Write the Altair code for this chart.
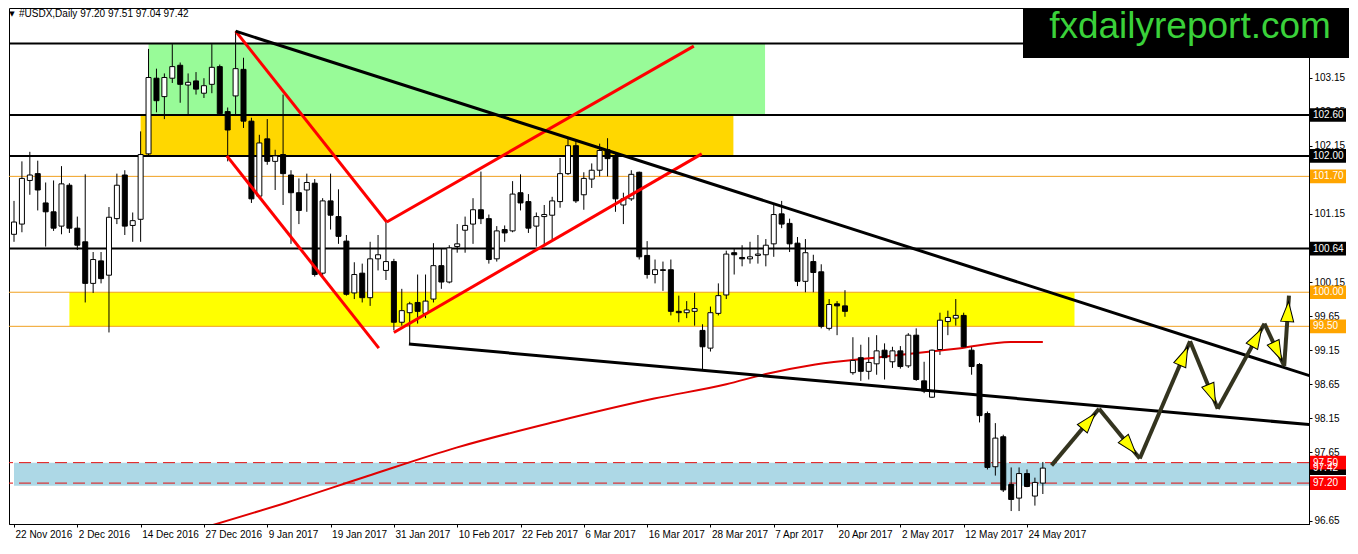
import math

import altair as alt
import pandas as pd

W, H = 1300, 516
X_DOMAIN = [0, 163]
Y_DOMAIN = [96.60, 104.17]
FONT = "Liberation Sans"

# x-axis tick labels, one every 8 bars
date_labels = [
    "22 Nov 2016", "2 Dec 2016", "14 Dec 2016", "27 Dec 2016", "9 Jan 2017",
    "19 Jan 2017", "31 Jan 2017", "10 Feb 2017", "22 Feb 2017", "6 Mar 2017",
    "16 Mar 2017", "28 Mar 2017", "7 Apr 2017", "20 Apr 2017", "2 May 2017",
    "12 May 2017", "24 May 2017",
]
y_ticks = [96.65, 97.15, 97.65, 98.15, 98.65, 99.15, 99.65, 100.15,
           100.65, 101.15, 101.65, 102.15, 102.65, 103.15]

# daily OHLC, one value per bar
opens = [
    100.85, 101.00, 101.64, 101.74, 101.31, 101.18, 100.97, 101.57, 100.94, 100.74,
    100.13, 100.46, 100.25, 101.08, 101.72, 100.98, 101.07, 102.03, 103.14, 102.87,
    103.14, 103.33, 103.04, 103.10, 102.92, 103.05, 103.31, 102.65, 102.88, 103.27,
    102.51, 101.41, 102.25, 101.92, 102.02, 101.72, 101.46, 101.50, 101.60, 100.28,
    101.34, 101.11, 100.75, 99.99, 100.28, 99.92, 100.49, 100.32, 100.45, 99.56,
    99.70, 99.85, 99.69, 99.90, 100.39, 100.15, 100.67, 100.91, 101.00, 101.21,
    101.08, 100.49, 100.92, 100.90, 101.46, 101.33, 100.97, 101.11, 101.13, 101.33,
    101.74, 102.15, 101.43, 101.66, 101.79, 102.09, 102.00, 101.28, 101.37, 101.76,
    100.54, 100.26, 100.33, 100.33, 99.72, 99.70, 99.72, 99.44, 99.18, 99.69,
    99.96, 100.58, 100.51, 100.49, 100.54, 100.55, 100.71, 101.15, 101.01, 100.72,
    100.16, 100.45, 100.30, 99.47, 99.83, 99.80, 98.82, 99.04, 98.84, 98.95,
    99.15, 98.98, 99.14, 98.92, 99.37, 98.70, 98.46, 99.16, 99.57, 99.62,
    99.66, 99.15, 98.94, 98.22, 97.44, 97.88, 97.18, 96.98, 97.34, 97.01,
    97.20,
]
highs = [
    101.34, 101.92, 102.06, 101.93, 101.61, 101.64, 101.85, 101.60, 101.11, 101.73,
    100.59, 100.59, 101.25, 101.74, 101.79, 101.17, 102.36, 103.57, 103.28, 103.21,
    103.64, 103.37, 103.21, 103.23, 103.14, 103.64, 103.34, 102.71, 103.83, 103.44,
    102.56, 102.31, 102.54, 102.09, 102.90, 101.79, 101.67, 101.74, 101.66, 101.38,
    101.74, 101.51, 100.84, 100.44, 100.42, 100.74, 100.84, 101.03, 100.49, 100.05,
    99.86, 100.26, 100.26, 100.72, 100.64, 100.69, 101.00, 101.11, 101.38, 101.77,
    101.14, 100.97, 100.98, 101.63, 101.73, 101.44, 101.17, 101.28, 101.40, 101.97,
    102.25, 102.22, 101.76, 101.89, 102.18, 102.26, 102.03, 101.46, 101.79, 101.77,
    100.75, 100.48, 100.45, 100.48, 99.95, 99.87, 99.99, 99.53, 99.79, 100.13,
    100.61, 100.64, 100.69, 100.74, 100.84, 100.78, 101.28, 101.34, 101.08, 100.81,
    100.78, 100.55, 100.41, 99.90, 99.87, 100.03, 99.34, 99.23, 99.34, 99.37,
    99.25, 99.20, 99.21, 99.40, 99.47, 98.98, 99.16, 99.70, 99.73, 99.90,
    99.70, 99.20, 98.96, 98.25, 98.08, 97.91, 97.43, 97.43, 97.40, 97.28,
    97.51,
]
lows = [
    100.74, 100.88, 101.43, 101.20, 100.67, 100.90, 100.85, 100.87, 100.62, 99.85,
    99.99, 100.13, 99.41, 101.00, 100.84, 100.74, 100.74, 102.00, 102.64, 102.54,
    103.07, 102.78, 102.59, 102.90, 102.85, 102.92, 102.61, 101.92, 102.61, 102.41,
    101.31, 101.38, 101.87, 101.50, 101.28, 100.71, 101.00, 101.18, 100.23, 100.23,
    100.92, 100.71, 99.95, 99.90, 99.85, 99.80, 100.32, 100.18, 99.44, 99.51,
    99.23, 99.54, 99.62, 99.85, 100.05, 100.13, 100.58, 100.58, 100.71, 101.00,
    100.42, 100.45, 100.74, 100.88, 101.20, 100.87, 100.67, 100.69, 100.77, 101.24,
    101.72, 101.31, 101.21, 101.53, 101.70, 101.70, 101.18, 101.00, 101.34, 100.48,
    100.20, 100.13, 100.02, 99.66, 99.56, 99.62, 99.51, 98.87, 99.13, 99.66,
    99.90, 100.26, 100.38, 100.42, 100.42, 100.38, 100.52, 100.94, 100.59, 100.09,
    100.00, 100.00, 99.47, 99.44, 99.37, 99.64, 98.79, 98.70, 98.72, 98.79,
    98.72, 98.89, 98.88, 98.89, 98.70, 98.52, 98.45, 99.08, 99.37, 99.51,
    99.18, 98.79, 98.09, 97.40, 97.31, 97.07, 96.79, 96.79, 97.14, 96.87,
    97.04,
]
closes = [
    101.03, 101.67, 101.72, 101.50, 101.18, 100.94, 101.59, 100.94, 100.69, 100.13,
    100.48, 100.20, 101.10, 101.57, 100.97, 101.05, 102.02, 103.15, 102.81, 103.15,
    103.31, 103.05, 103.08, 102.98, 103.03, 103.30, 102.62, 102.38, 103.28, 102.51,
    101.37, 102.19, 101.92, 102.00, 101.74, 101.46, 101.20, 101.61, 100.26, 101.34,
    101.13, 100.82, 99.97, 100.26, 99.92, 100.49, 100.55, 100.45, 99.56, 99.73,
    99.83, 99.72, 99.87, 100.39, 100.15, 100.65, 100.71, 100.98, 101.21, 101.08,
    100.48, 100.90, 100.87, 101.44, 101.31, 100.94, 101.11, 101.14, 101.34, 101.74,
    102.15, 101.34, 101.67, 101.79, 102.08, 101.96, 101.37, 101.37, 101.73, 100.52,
    100.26, 100.33, 100.32, 99.72, 99.70, 99.74, 99.76, 99.20, 99.70, 99.95,
    100.56, 100.55, 100.49, 100.52, 100.56, 100.69, 101.14, 101.00, 100.71, 100.16,
    100.58, 100.29, 99.50, 99.82, 99.80, 99.72, 99.00, 98.84, 98.97, 99.14,
    99.04, 99.14, 98.91, 99.37, 98.72, 98.55, 99.15, 99.59, 99.63, 99.66,
    99.20, 98.91, 98.19, 97.43, 97.86, 97.10, 96.96, 97.34, 97.15, 97.21,
    97.42,
]

# moving average (sampled along the red curve)
ma_bar = [24.4, 34.6, 44.6, 55.9, 68.4, 80.9, 90.0, 95.0, 101.25, 109.6, 119.6, 125.9, 130.0]
ma_val = [96.56, 96.92, 97.30, 97.72, 98.10, 98.44, 98.65, 98.80, 98.94, 99.05, 99.18, 99.27, 99.27]

# shaded zones
zone_start = [17.0, 16.0, 7.0, 0.0]
zone_end = [94.9, 90.9, 134.0, 164.4]
zone_top = [103.65, 102.60, 100.00, 97.50]
zone_bottom = [102.60, 102.00, 99.50, 97.16]
zone_colors = ["#98fb98", "#ffd700", "#ffff00", "#add8e6"]

# horizontal levels
black_levels = [103.65, 102.60, 102.00, 100.64]
orange_levels = [101.70, 100.00, 99.50]
red_levels = [97.50, 97.20]

# price tags on the right axis
tag_prices = [102.60, 102.00, 101.70, 100.64, 100.00, 99.50, 97.42, 97.50, 97.20]
tag_colors = ["black", "black", "#ffa500", "black", "#ffa500", "#ffa500",
              "black", "#ff0000", "#ff0000"]

# trend lines
seg_x1 = [28.0, 47.1, 26.9, 48.0, 28.0, 49.9]
seg_p1 = [103.83, 101.03, 102.00, 99.41, 103.83, 99.24]
seg_x2 = [47.1, 85.9, 46.1, 86.9, 164.4, 164.4]
seg_p2 = [101.03, 103.61, 99.18, 102.03, 98.75, 98.05]
seg_colors = ["#ff0000", "#ff0000", "#ff0000", "#ff0000", "black", "black"]

# projected zigzag path
arrow_bar = [131.1, 137.1, 142.25, 148.6, 152.1, 158.0, 160.5, 161.1]
arrow_val = [97.46, 98.29, 97.56, 99.28, 98.29, 99.54, 98.92, 99.95]

header = "#USDX,Daily  97.20 97.51 97.04 97.42"

candles = pd.DataFrame({"i": range(len(opens)), "open": opens, "high": highs,
                        "low": lows, "close": closes})
candles["dir"] = ["up" if c >= o else "down" for o, c in zip(opens, closes)]

xs = alt.Scale(domain=X_DOMAIN, nice=False, zero=False)
ys = alt.Scale(domain=Y_DOMAIN, nice=False, zero=False)

label_expr = "[" + ",".join(f"'{d}'" for d in date_labels) + "][round(datum.value / 8)]"
x_axis = alt.Axis(values=list(range(0, 8 * len(date_labels), 8)), labelExpr=label_expr,
                  labelAlign="left", labelOffset=1, tickSize=3, labelPadding=2, grid=False,
                  title=None, labelOverlap=False, labelFlush=False, labelBound=False)
y_axis = alt.Axis(orient="right", values=y_ticks, format=".2f", tickSize=3, labelPadding=2,
                  grid=False, title=None, labelOverlap=False, labelFlush=False)


def X(field):
    return alt.X(field, scale=xs, axis=x_axis)


def Y(field):
    return alt.Y(field, scale=ys, axis=y_axis)


zones = alt.Chart(pd.DataFrame({"x1": zone_start, "x2": zone_end, "top": zone_top,
                                "bottom": zone_bottom, "color": zone_colors})).mark_rect(clip=True).encode(
    x=X("x1:Q"), x2="x2:Q", y=Y("top:Q"), y2="bottom:Q", color=alt.Color("color:N", scale=None)
)

lv_black = alt.Chart(pd.DataFrame({"p": black_levels})).mark_rule(color="black", strokeWidth=2).encode(y=Y("p:Q"))
lv_orange = alt.Chart(pd.DataFrame({"p": orange_levels})).mark_rule(color="#f0a020", strokeWidth=1).encode(y=Y("p:Q"))
lv_red = alt.Chart(pd.DataFrame({"p": red_levels})).mark_rule(
    color="#e01010", strokeWidth=1, strokeDash=[12, 6]).encode(y=Y("p:Q"))

wicks = alt.Chart(candles).mark_rule(color="black", strokeWidth=1, clip=True).encode(
    x=X("i:Q"), y=Y("low:Q"), y2="high:Q",
)
bodies = alt.Chart(candles).mark_bar(size=5, stroke="black", strokeWidth=1, clip=True).encode(
    x=X("i:Q"), y=Y("open:Q"), y2="close:Q",
    fill=alt.Fill("dir:N", scale=alt.Scale(domain=["up", "down"], range=["white", "black"]), legend=None),
)

ma = alt.Chart(pd.DataFrame({"i": ma_bar, "v": ma_val})).mark_line(
    color="#e00000", strokeWidth=2, interpolate="monotone", clip=True).encode(x=X("i:Q"), y=Y("v:Q"))

trends = alt.Chart(pd.DataFrame({"x1": seg_x1, "p1": seg_p1, "x2": seg_x2, "p2": seg_p2,
                                 "color": seg_colors})).mark_rule(strokeWidth=3, clip=True).encode(
    x=X("x1:Q"), y=Y("p1:Q"), x2="x2:Q", y2="p2:Q", color=alt.Color("color:N", scale=None)
)

# arrow shafts and heads
sx = W / (X_DOMAIN[1] - X_DOMAIN[0])
sy = H / (Y_DOMAIN[1] - Y_DOMAIN[0])
rows, heads = [], []
for k in range(len(arrow_bar) - 1):
    a0, a1 = arrow_bar[k], arrow_bar[k + 1]
    v0, v1 = arrow_val[k], arrow_val[k + 1]
    rows.append({"x1": a0, "p1": v0, "x2": a1, "p2": v1})
    dx, dy = (a1 - a0) * sx, -(v1 - v0) * sy
    n = math.hypot(dx, dy)
    ux, uy = dx / n, dy / n
    back = min(16, n * 0.6)
    heads.append({"i": a1 - back * ux / sx, "v": v1 + back * uy / sy,
                  "angle": math.degrees(math.atan2(dx, -dy)) % 360})

shafts = alt.Chart(pd.DataFrame(rows)).mark_rule(color="#34341f", strokeWidth=4).encode(
    x=X("x1:Q"), y=Y("p1:Q"), x2="x2:Q", y2="p2:Q"
)
arrow_heads = alt.Chart(pd.DataFrame(heads)).mark_point(
    shape="M0,-1L0.65,1L-0.65,1Z", filled=True, fill="#ffff00", stroke="black",
    strokeWidth=1, size=400, opacity=1).encode(
    x=X("i:Q"), y=Y("v:Q"), angle=alt.Angle("angle:Q", scale=None)
)

tags_df = pd.DataFrame({"p": tag_prices, "color": tag_colors,
                        "label": [f"{p:.2f}" for p in tag_prices]})
tag_boxes = alt.Chart(tags_df).mark_point(
    shape="M-1,-0.38L1,-0.38L1,0.38L-1,0.38Z", filled=True, size=1296, opacity=1, strokeWidth=0).encode(
    x=alt.value(W + 19), y=Y("p:Q"), color=alt.Color("color:N", scale=None)
)
tag_text = alt.Chart(tags_df).mark_text(
    font=FONT, fontSize=10, color="white", align="left", baseline="middle").encode(
    x=alt.value(W + 4), y=Y("p:Q"), text="label:N"
)

head_df = pd.DataFrame({"t": [header]})
tri = alt.Chart(head_df).mark_text(text="▼", font="DejaVu Sans", fontSize=7, color="black",
                                   baseline="middle", align="center").encode(
    x=alt.value(3), y=alt.value(6))
head_text = alt.Chart(head_df).mark_text(font=FONT, fontSize=10, color="black",
                                         baseline="middle", align="left").encode(
    x=alt.value(10), y=alt.value(6), text="t:N")

logo_df = pd.DataFrame({"t": ["fxdailyreport.com"]})
logo_box = alt.Chart(logo_df).mark_rect(color="black").encode(
    x=alt.value(1014), x2=alt.value(1340), y=alt.value(0), y2=alt.value(50))
logo_text = alt.Chart(logo_df).mark_text(font=FONT, fontSize=37, color="#3ad13a",
                                         align="center", baseline="top").encode(
    x=alt.value(1181), y=alt.value(1), text="t:N")

chart = alt.layer(
    zones, lv_black, lv_orange, lv_red, wicks, ma, bodies, trends,
    shafts, arrow_heads, tag_boxes, tag_text, tri, head_text, logo_box, logo_text,
).properties(width=W, height=H, padding=0).configure_view(
    stroke="black", strokeWidth=1
).configure_axis(
    labelFont=FONT, labelFontSize=10, labelColor="black", tickColor="black",
    domainColor="black", domainWidth=1, tickWidth=1
)

chart.save("out.html", embed_options={"renderer": "svg", "actions": False})
